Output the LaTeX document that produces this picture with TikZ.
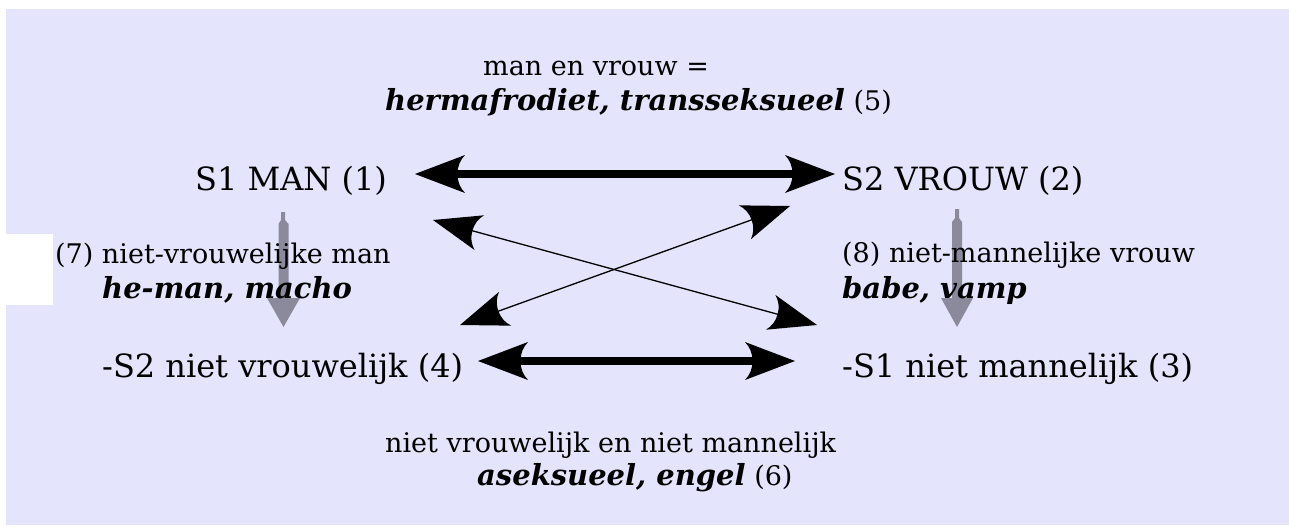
\documentclass[tikz,border=0pt]{standalone}
\usepackage{fontspec}
\setmainfont{DejaVu Serif}
\usetikzlibrary{arrows.meta}
\definecolor{bgl}{RGB}{228,228,252}
\definecolor{grayarr}{RGB}{138,138,156}
\pgfdeclarearrow{
  name = Fletch,
  parameters = {\the\pgfarrowlength,\the\pgfarrowwidth},
  setup code = {
    \pgfarrowssettipend{0pt}
    \pgfarrowssetlineend{-.78\pgfarrowlength}
    \pgfarrowssetbackend{-\pgfarrowlength}
    \pgfarrowssavethe\pgfarrowlength
    \pgfarrowssavethe\pgfarrowwidth
  },
  drawing code = {
    \pgfpathmoveto{\pgfqpoint{0pt}{0pt}}
    \pgfpathlineto{\pgfqpoint{-\pgfarrowlength}{.5\pgfarrowwidth}}
    \pgfpathcurveto{\pgfqpoint{-.9\pgfarrowlength}{.36\pgfarrowwidth}}{\pgfqpoint{-.85\pgfarrowlength}{.2\pgfarrowwidth}}{\pgfqpoint{-.85\pgfarrowlength}{0pt}}
    \pgfpathcurveto{\pgfqpoint{-.85\pgfarrowlength}{-.2\pgfarrowwidth}}{\pgfqpoint{-.9\pgfarrowlength}{-.36\pgfarrowwidth}}{\pgfqpoint{-\pgfarrowlength}{-.5\pgfarrowwidth}}
    \pgfpathclose
    \pgfusepathqfill
  },
  defaults = {length=48pt, width=38pt}
}
\tikzset{
  lbl/.style={anchor=base west, inner sep=0pt, font=\fontsize{27}{32}\selectfont},
  big/.style={anchor=base west, inner sep=0pt, font=\fontsize{32}{36}\selectfont},
  thickarr/.style={line width=8pt, {Fletch[length=50pt,width=38pt]}-{Fletch[length=50pt,width=38pt]}},
  thinarr/.style={line width=1.3pt, {Fletch[length=48pt,width=36pt]}-{Fletch[length=48pt,width=36pt]}},
  grayshape/.style={fill=grayarr}
}
\newcommand{\bi}[1]{{\fontsize{29}{32}\selectfont\bfseries\itshape #1}}
\begin{document}
\begin{tikzpicture}[x=1pt,y=-1pt]
\useasboundingbox (0,0) rectangle (1289,525);
\fill[white] (0,0) rectangle (1289,525);
\fill[bgl] (6,9) rectangle (1289,525);
\fill[white] (6,234) rectangle (53,305);
% gray down arrows
\fill[grayshape] (281,212) -- (285,212) -- (285,220) -- (288.5,224) -- (288.5,298) -- (300,298) -- (283.5,327) -- (267,298) -- (278.5,298) -- (278.5,224) -- (281,220) -- cycle;
\fill[grayshape] (955,209) -- (959,209) -- (959,218) -- (962,222) -- (962,298) -- (973,298) -- (957,327) -- (941,298) -- (952,298) -- (952,222) -- (955,218) -- cycle;
% labels
\node[lbl] (t5a) at (483,75) {man en vrouw =};
\node[lbl] (t5b) at (385,110) {\bi{hermafrodiet, transseksueel} (5)};
\node[big] (s1) at (195,190) {S1 MAN (1)};
\node[big] (s2) at (842,190) {S2 VROUW (2)};
\node[lbl] (t7a) at (55,263) {(7) niet-vrouwelijke man};
\node[lbl] (t7b) at (102,298) {\bi{he-man, macho}};
\node[lbl] (t8a) at (842,262) {(8) niet-mannelijke vrouw};
\node[lbl] (t8b) at (842,298) {\bi{babe, vamp}};
\node[big] (n4) at (102,377) {-S2 niet vrouwelijk (4)};
\node[big] (n3) at (842,377) {-S1 niet mannelijk (3)};
\node[lbl] (t6a) at (385,452) {niet vrouwelijk en niet mannelijk};
\node[lbl] (t6b) at (477,485) {\bi{aseksueel, engel} (6)};
% arrow end points
\coordinate (tL) at (415,174);
\coordinate (tR) at (835,174);
\coordinate (bL) at (478,361);
\coordinate (bR) at (795,361);
\coordinate (a1) at (433,220);
\coordinate (a2) at (817,325);
\coordinate (b1) at (460,325);
\coordinate (b2) at (790,206);
\draw[thickarr] (tL) -- (tR);
\draw[thickarr] (bL) -- (bR);
\draw[thinarr] (a1) -- (a2);
\draw[thinarr] (b1) -- (b2);
\end{tikzpicture}
\end{document}
